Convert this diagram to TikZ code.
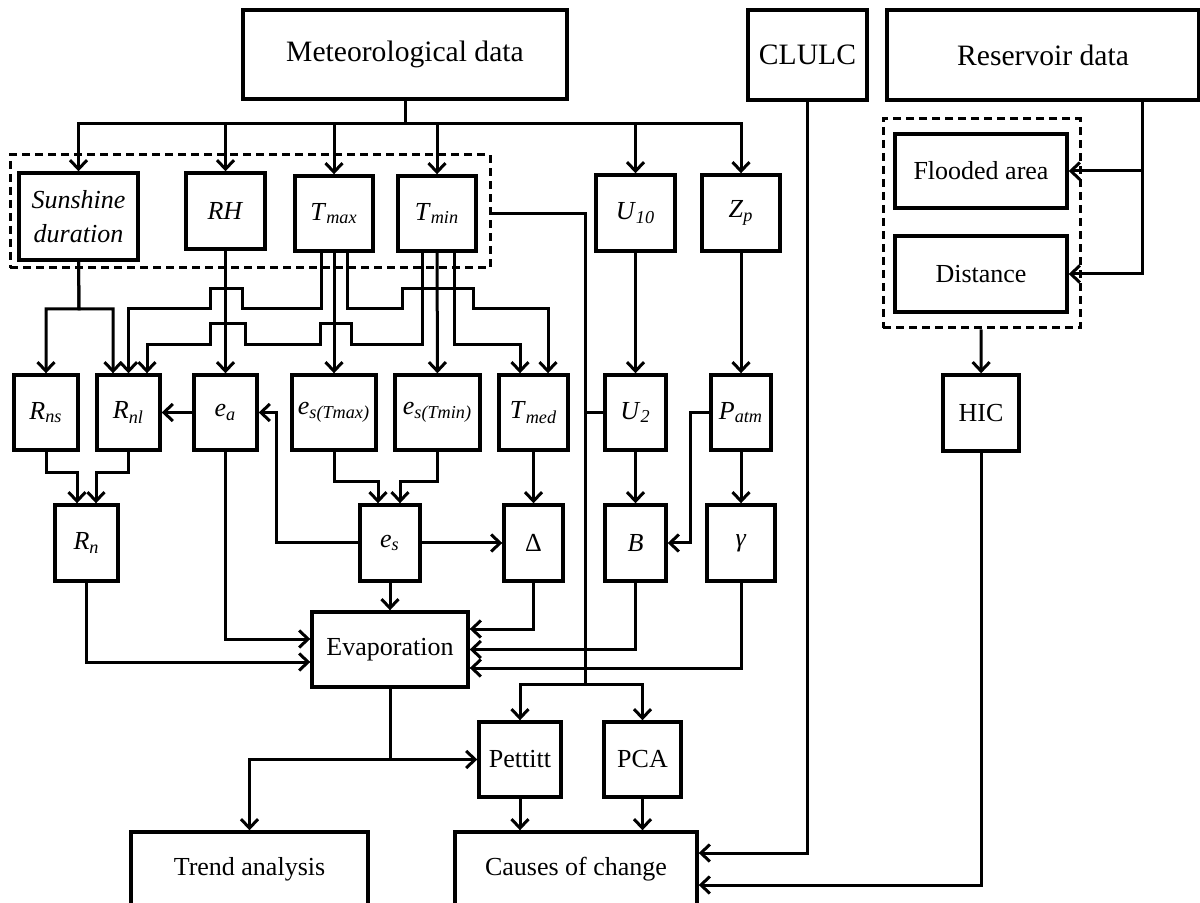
\documentclass[tikz,border=0pt]{standalone}
\usepackage{fontspec}
\setmainfont{Liberation Serif}
\usepackage{tikz}
\usetikzlibrary{positioning, arrows.meta}

\newcommand{\sbs}[1]{\textsubscript{\textit{#1}}}

\begin{document}
\begin{tikzpicture}[
    x=0.5pt, y=-0.5pt,
    every node/.style={rectangle, draw, line width=1.7pt, inner sep=0pt, align=center, font=\fontsize{13}{17}\selectfont},
    big/.style={font=\fontsize{14.8}{18}\selectfont},
    group/.style={dash pattern=on 4pt off 2.5pt, line width=1.5pt},
    conn/.style={line width=1.5pt},
    arrow/.style={-{Straight Barb[length=4.5pt,width=8.5pt]}, line width=1.5pt}
]
\useasboundingbox (0,0) rectangle (1200,903);

% Nodes
\node (met) [big, minimum width=162pt, minimum height=44.5pt] at (405,54.5) {Meteorological data};
\node (clulc) [big, minimum width=59.5pt, minimum height=45pt] at (807.5,55) {CLULC};
\node (res) [big, minimum width=156pt, minimum height=45pt] at (1043,55) {Reservoir data};

\node (metgroup) [group, minimum width=240pt, minimum height=56.5pt] at (250,211.5) {};
\node (sun) [minimum width=59.5pt, minimum height=43.5pt] at (78.5,216.5) {\textit{Sunshine}\\\textit{duration}};
\node (rh) [minimum width=39.5pt, minimum height=38pt] at (225.5,211) {\textit{RH}};
\node (tmax) [minimum width=39pt, minimum height=37.5pt] at (334,213.5) {\textit{T}\sbs{max}};
\node (tmin) [minimum width=39pt, minimum height=37.5pt] at (437,213.5) {\textit{T}\sbs{min}};
\node (u10) [minimum width=39.5pt, minimum height=38pt] at (635.5,213) {\textit{U}\sbs{10}};
\node (zp) [minimum width=39pt, minimum height=38pt] at (741,213) {\textit{Z}\sbs{p}};

\node (resgroup) [group, minimum width=98.5pt, minimum height=104.5pt] at (981.5,223.5) {};
\node (flood) [minimum width=86pt, minimum height=37pt] at (981,171) {Flooded area};
\node (dist) [minimum width=86pt, minimum height=38pt] at (981,274) {Distance};
\node (hic) [minimum width=38pt, minimum height=38pt] at (981,413) {HIC};

\node (rns) [minimum width=32pt, minimum height=37.5pt] at (46,412.5) {\textit{R}\sbs{ns}};
\node (rnl) [minimum width=31.5pt, minimum height=37.5pt] at (128.5,412.5) {\textit{R}\sbs{nl}};
\node (ea) [minimum width=31.5pt, minimum height=37.5pt] at (225.5,412.5) {\textit{e}\sbs{a}};
\node (esmax) [minimum width=42pt, minimum height=37.5pt] at (334,412.5) {\textit{e}\sbs{s(Tmax)}};
\node (esmin) [minimum width=42.5pt, minimum height=37.5pt] at (437.5,412.5) {\textit{e}\sbs{s(Tmin)}};
\node (tmed) [minimum width=34.5pt, minimum height=37.5pt] at (533.5,412.5) {\textit{T}\sbs{med}};
\node (u2) [minimum width=30.5pt, minimum height=37.5pt] at (635.5,412.5) {\textit{U}\sbs{2}};
\node (patm) [minimum width=30pt, minimum height=37.5pt] at (741,412.5) {\textit{P}\sbs{atm}};

\node (rn) [minimum width=31.5pt, minimum height=38pt] at (86.5,543) {\textit{R}\sbs{n}};
\node (es) [minimum width=30pt, minimum height=38pt] at (390,543) {\textit{e}\sbs{s}};
\node (delta) [minimum width=29.5pt, minimum height=38pt] at (533.5,543) {Δ};
\node (b) [minimum width=30.5pt, minimum height=38pt] at (635.5,543) {\textit{B}};
\node (gam) [minimum width=34pt, minimum height=38pt] at (741,543) {\textit{γ}};

\node (evap) [minimum width=78pt, minimum height=37.5pt] at (390,649.5) {Evaporation};
\node (pettitt) [minimum width=41pt, minimum height=37.5pt] at (520,759.5) {Pettitt};
\node (pca) [minimum width=38.5pt, minimum height=37.5pt] at (642.5,759.5) {PCA};
\node (trend) [minimum width=118.5pt, minimum height=37pt] at (249.5,869) {Trend analysis};
\node (causes) [minimum width=121pt, minimum height=37pt] at (576,869) {Causes of change};

\coordinate (split) at (405,124);
\coordinate (tj) at (585,684);

% Arrows
\draw [conn] (met) -- (split);
\foreach \n in {sun, rh, tmax, tmin, u10, zp}
    \draw [arrow] (split) -| (\n);

\draw [arrow] (sun.south) -- (79,309) -| (rns.north);
\draw [arrow] (sun.south) -- (79,309) -| ([xshift=-7.75pt]rnl.north);
\draw [arrow] (rh) -- (ea);
\draw [arrow] ([xshift=-6.5pt]tmax.south) -- (321,309) -- (242,309) -- (242,289) -- (210,289) -- (210,309) -| (rnl.north);
\draw [arrow] (tmax) -- (esmax);
\draw [arrow] ([xshift=6.5pt]tmax.south) -- (347,309) -- (402,309) -- (402,289) -- (473,289) -- (473,309) -| ([xshift=7.25pt]tmed.north);
\draw [arrow] ([xshift=-7.5pt]tmin.south) -- (422,345) -- (351,345) -- (351,324) -- (320,324) -- (320,345) -- (245,345) -- (245,324) -- (210,324) -- (210,345) -| ([xshift=9.25pt]rnl.north);
\draw [arrow] (tmin) -- (esmin);
\draw [arrow] ([xshift=8.5pt]tmin.south) -- (454,345) -| ([xshift=-6.75pt]tmed.north);

\draw [conn] (metgroup.east |- tmin) -| (tj);
\draw [conn] (u2) -- (u2 -| tj);
\draw [arrow] (tj) -| (pettitt);
\draw [arrow] (tj) -| (pca);

\draw [arrow] (u10) -- (u2);
\draw [arrow] (zp) -- (patm);
\draw [arrow] (u2) -- (b);
\draw [arrow] (patm) -- (gam);
\draw [arrow] (patm.west) -- (690,412.5) |- (b.east);

\draw [arrow] (ea) -- (rnl);
\draw [arrow] (es.west) -| (276,412.5) -- (ea.east);
\draw [arrow] (es) -- (delta);
\draw [arrow] (esmax.south) |- (378,482) -- ([xshift=-6pt]es.north);
\draw [arrow] (esmin.south) |- (400,482) -- ([xshift=5pt]es.north);
\draw [arrow] (tmed) -- (delta);
\draw [arrow] (rns.south) |- (77,473) -- ([xshift=-4.75pt]rn.north);
\draw [arrow] (rnl.south) |- (96,473) -- ([xshift=4.75pt]rn.north);

\draw [arrow] (es) -- (evap);
\draw [arrow] (ea.south) |- ([yshift=5.25pt]evap.west);
\draw [arrow] (rn.south) |- ([yshift=-6.25pt]evap.west);
\draw [arrow] (delta.south) |- ([yshift=10.25pt]evap.east);
\draw [arrow] (b.south) |- (evap.east);
\draw [arrow] (gam.south) |- ([yshift=-9.25pt]evap.east);

\draw [arrow] (evap.south) |- (pettitt.west);
\draw [arrow] (evap.south |- pettitt.west) -| (trend.north);
\draw [arrow] (pettitt) -- (pettitt |- causes.north);
\draw [arrow] (pca) -- (pca |- causes.north);
\draw [arrow] (clulc.south) |- ([yshift=8pt]causes.east);
\draw [arrow] (hic.south) |- ([yshift=-8pt]causes.east);

\draw [conn] ([xshift=49.5pt]res.south) -- (1142,274);
\draw [arrow] ([xshift=49.5pt]res.south) |- (flood.east);
\draw [arrow] ([xshift=49.5pt]res.south) |- (dist.east);
\draw [arrow] (resgroup) -- (hic);

\end{tikzpicture}
\end{document}
